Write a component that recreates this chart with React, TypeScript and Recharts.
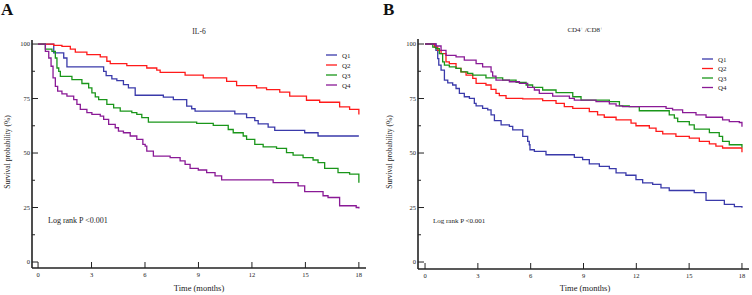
import { Line, LineChart, XAxis, YAxis } from "recharts"

// Panel A: IL-6 quartiles (time in months, survival %)
const aQ1T = [0, 0.88, 1.44, 1.62, 3.68, 3.82, 4.14, 4.42, 4.79, 5.07, 5.45, 7.03, 7.59, 8.34, 8.62, 8.81, 11.04, 11.7, 12.16, 12.35, 12.91, 13.28, 14.96, 15.71, 18]
const aQ1S = [100, 95.9, 93.6, 89.5, 87.5, 85.5, 84.0, 83.2, 81.4, 79.9, 76.5, 75.6, 74.5, 71.5, 70.3, 69.2, 68.0, 66.2, 64.9, 63.4, 61.9, 60.4, 59.3, 57.8, 57.8]
const aQ2T = [0, 0.88, 1.34, 1.81, 2.09, 2.74, 3.49, 3.86, 4.05, 4.98, 6.1, 6.66, 6.85, 8.25, 9.27, 10.58, 11.14, 12.26, 12.82, 13.56, 14.12, 15.06, 15.8, 16.92, 17.48, 18]
const aQ2S = [100, 99.4, 98.9, 97.7, 96.3, 95.1, 94.1, 92.1, 91.0, 90.1, 89.0, 88.0, 87.0, 85.7, 84.5, 82.9, 80.9, 79.9, 79.1, 77.9, 76.1, 74.2, 73.3, 71.2, 70.0, 67.7]
const aQ3T = [0, 0.41, 0.78, 0.97, 1.06, 1.16, 1.25, 1.9, 2.46, 2.84, 3.02, 3.21, 3.4, 3.86, 4.24, 4.61, 5.26, 5.54, 5.82, 6.19, 8.9, 9.83, 10.67, 10.95, 11.51, 11.7, 12.16, 12.63, 13.38, 13.94, 14.31, 14.87, 15.43, 15.71, 16.08, 16.83, 17.48, 18]
const aQ3S = [100, 97.7, 96.6, 93.6, 89.0, 87.5, 85.2, 83.7, 81.9, 79.9, 77.6, 75.8, 74.5, 72.3, 70.7, 69.2, 68.5, 67.7, 66.2, 64.2, 63.6, 62.7, 60.8, 59.3, 57.8, 56.3, 54.0, 52.8, 52.1, 50.2, 49.0, 47.9, 46.8, 45.6, 43.0, 41.0, 40.3, 36.4]
const aQ4T = [0, 0.41, 0.6, 0.73, 0.84, 0.97, 1.1, 1.34, 1.62, 2.0, 2.18, 2.37, 2.74, 3.02, 3.49, 3.68, 3.96, 4.33, 4.51, 4.79, 5.17, 5.54, 5.88, 6.01, 6.1, 6.47, 7.41, 7.97, 8.25, 8.53, 8.99, 9.46, 9.93, 10.3, 13.19, 14.59, 14.96, 15.99, 16.27, 16.92, 17.85, 18]
const aQ4S = [100, 96.6, 93.6, 89.8, 84.5, 80.6, 78.4, 77.1, 76.1, 74.5, 72.3, 70.0, 68.5, 67.7, 66.9, 65.4, 63.1, 61.6, 60.0, 59.3, 57.8, 56.3, 54.0, 53.2, 50.9, 48.6, 47.9, 46.4, 44.8, 43.0, 42.2, 41.0, 39.5, 37.7, 36.4, 34.9, 32.3, 30.4, 29.6, 25.8, 25.0, 24.6]

// Panel B: CD4+/CD8+ quartiles
const bQ1T = [0, 0.62, 0.72, 0.78, 0.91, 1.1, 1.29, 1.57, 1.76, 1.95, 2.23, 2.52, 2.8, 2.9, 3.27, 3.56, 3.75, 3.94, 4.32, 4.79, 4.98, 5.55, 5.83, 5.92, 5.96, 6.21, 6.87, 8.48, 8.95, 9.33, 9.9, 10.47, 10.85, 11.41, 11.98, 12.36, 12.93, 13.4, 13.87, 15.29, 15.96, 17.0, 17.57, 18]
const bQ1S = [100, 97.1, 93.3, 90.3, 88.0, 83.4, 82.2, 81.2, 79.6, 77.4, 75.8, 75.1, 72.8, 71.6, 70.5, 69.8, 67.5, 64.9, 62.9, 62.2, 60.6, 57.6, 55.3, 53.8, 51.5, 50.8, 49.2, 48.0, 47.0, 45.0, 43.9, 42.8, 40.9, 39.8, 37.8, 36.3, 35.6, 34.0, 32.8, 31.8, 28.3, 26.4, 25.4, 24.9]
const bQ2T = [0, 0.53, 0.72, 0.91, 1.19, 1.38, 1.76, 2.04, 2.33, 2.71, 2.9, 3.46, 3.75, 4.03, 4.22, 4.6, 5.55, 6.68, 7.44, 7.91, 8.39, 9.33, 9.8, 10.18, 10.85, 11.7, 11.98, 12.74, 13.12, 13.5, 14.25, 15.01, 15.58, 16.15, 16.52, 16.9, 18]
const bQ2S = [100, 98.6, 97.1, 95.6, 91.8, 91.0, 88.8, 87.2, 85.7, 84.2, 81.9, 81.2, 79.2, 77.4, 76.3, 75.1, 74.8, 74.0, 72.8, 71.3, 70.5, 69.0, 67.5, 66.4, 65.2, 63.7, 62.5, 61.4, 59.9, 58.8, 57.6, 56.8, 55.3, 54.2, 53.2, 52.3, 50.4]
const bQ3T = [0, 0.44, 0.62, 0.81, 1.0, 1.1, 1.38, 1.76, 2.04, 2.42, 2.71, 3.46, 4.41, 5.17, 5.74, 6.11, 6.68, 7.44, 8.39, 8.86, 10.47, 11.04, 11.6, 12.17, 13.87, 14.16, 14.35, 15.01, 15.29, 16.15, 16.71, 16.9, 17.28, 18]
const bQ3S = [100, 98.6, 97.9, 95.6, 91.8, 90.3, 89.5, 88.8, 87.2, 86.5, 85.7, 84.5, 83.4, 82.4, 81.2, 80.1, 78.9, 77.7, 75.8, 74.3, 73.6, 71.6, 71.3, 69.4, 67.5, 66.0, 64.4, 62.9, 61.0, 59.4, 57.6, 55.3, 53.8, 52.5]
const bQ4T = [0, 0.62, 0.91, 1.19, 1.76, 2.23, 2.9, 3.27, 3.75, 3.84, 4.03, 4.79, 5.36, 5.83, 6.21, 6.49, 7.25, 8.2, 8.48, 9.71, 10.47, 10.85, 11.22, 13.69, 14.06, 14.63, 15.39, 15.96, 16.9, 17.28, 17.85, 18]
const bQ4S = [100, 99.1, 97.1, 94.8, 94.1, 92.6, 91.0, 89.5, 87.2, 85.3, 83.4, 82.7, 81.9, 80.1, 78.9, 77.4, 76.1, 75.1, 74.3, 73.6, 72.5, 71.6, 71.3, 70.5, 69.8, 68.5, 67.5, 66.4, 65.2, 64.4, 64.0, 62.1]

const groups = ["Q1", "Q2", "Q3", "Q4"]
const colors = ["#3a3aaa", "#ff1a1a", "#1a961a", "#8a1a96"]
const monthTicks = [0, 3, 6, 9, 12, 15, 18]
const survTicks = [0, 12.5, 25, 37.5, 50, 62.5, 75, 87.5, 100]

const FONT = "'Liberation Serif', 'Times New Roman', serif"
const INK = "#222"

const toRows = (t: number[], s: number[]) => t.map((v, i) => ({ t: v, s: s[i] }))

const YTick = (props: any) => {
  const { x, y, payload } = props
  const major = payload.value % 25 === 0
  return (
    <g>
      <line x1={x + 2} x2={x + 2 + (major ? 6 : 3)} y1={y} y2={y} stroke={INK} strokeWidth={1} />
      {major && (
        <text x={x} y={y} dy={2.3} textAnchor="end" fontSize={6.5} fontFamily={FONT} fill={INK}>
          {payload.value}
        </text>
      )}
    </g>
  )
}

const XTick = (props: any) => {
  const { x, y, payload } = props
  return (
    <g>
      <line x1={x} x2={x} y1={y} y2={y - 6} stroke={INK} strokeWidth={1} />
      <text x={x} y={y + 9} textAnchor="middle" fontSize={6.5} fontFamily={FONT} fill={INK}>
        {payload.value}
      </text>
    </g>
  )
}

function LegendBox({ x, y, gap }: { x: number; y: number; gap: number }) {
  return (
    <g>
      {groups.map((g, i) => (
        <g key={g}>
          <line x1={x} x2={x + 11} y1={y + i * gap} y2={y + i * gap} stroke={colors[i]} strokeWidth={1.3} />
          <text x={x + 16} y={y + i * gap} dy={2.5} fontSize={7} fontFamily={FONT} fill={INK}>
            {g}
          </text>
        </g>
      ))}
    </g>
  )
}

type PanelProps = {
  series: { t: number[]; s: number[] }[]
  margin: { top: number; right: number; bottom: number; left: number }
  xDomain: [number, number]
  yDomain: [number, number]
  children?: any
}

function Panel({ series, margin, xDomain, yDomain, children }: PanelProps) {
  return (
    <LineChart width={376} height={295} margin={margin}>
      <XAxis
        type="number"
        dataKey="t"
        domain={xDomain}
        ticks={monthTicks}
        allowDataOverflow
        height={20}
        stroke={INK}
        strokeWidth={1.6}
        tickLine={false}
        tickSize={0}
        tickMargin={0}
        tick={<XTick />}
        interval={0}
      />
      <YAxis
        type="number"
        domain={yDomain}
        ticks={survTicks}
        allowDataOverflow
        width={24}
        stroke={INK}
        strokeWidth={1.6}
        tickLine={false}
        tickSize={0}
        tickMargin={2}
        tick={<YTick />}
        interval={0}
      />
      {series.map((sr, i) => (
        <Line
          key={groups[i]}
          name={groups[i]}
          data={toRows(sr.t, sr.s)}
          dataKey="s"
          type="stepAfter"
          stroke={colors[i]}
          strokeWidth={1.3}
          dot={false}
          isAnimationActive={false}
        />
      ))}
      {children}
    </LineChart>
  )
}

export default function App() {
  return (
    <div style={{ position: "absolute", left: 0, top: 0, width: 752, height: 295, background: "#fff" }}>
      <div style={{ position: "absolute", left: 0, top: 0 }}>
        <Panel
          series={[
            { t: aQ1T, s: aQ1S },
            { t: aQ2T, s: aQ2S },
            { t: aQ3T, s: aQ3S },
            { t: aQ4T, s: aQ4S },
          ]}
          margin={{ top: 40, right: 10, bottom: 7, left: 8 }}
          xDomain={[-0.34, 18.4]}
          yDomain={[-2.75, 101.85]}
        >
          <LegendBox x={326} y={55} gap={10} />
          <text x={1} y={15} fontSize={17} fontWeight="bold" fontFamily={FONT} fill="#111">A</text>
          <text x={199} y={34} textAnchor="middle" fontSize={7.5} fontFamily={FONT} fill={INK}>IL-6</text>
          <text x={48} y={223} fontSize={8} fontFamily={FONT} fill={INK}>Log rank P &lt;0.001</text>
          <text x={199} y={291} textAnchor="middle" fontSize={8.5} fontFamily={FONT} fill={INK}>Time (months)</text>
          <text x={10} y={152} transform="rotate(-90 10 152)" textAnchor="middle" fontSize={7.5} fontFamily={FONT} fill={INK}>
            Survival probability (%)
          </text>
        </Panel>
      </div>
      <div style={{ position: "absolute", left: 376, top: 0 }}>
        <Panel
          series={[
            { t: bQ1T, s: bQ1S },
            { t: bQ2T, s: bQ2S },
            { t: bQ3T, s: bQ3S },
            { t: bQ4T, s: bQ4S },
          ]}
          margin={{ top: 39, right: 3, bottom: 6, left: 18 }}
          xDomain={[-0.4, 18.4]}
          yDomain={[-3.2, 102.3]}
        >
          <LegendBox x={326} y={59} gap={9.5} />
          <text x={7} y={15} fontSize={17} fontWeight="bold" fontFamily={FONT} fill="#111">B</text>
          <text x={209} y={32} textAnchor="middle" fontSize={7} fontFamily={FONT} fill={INK}>
            CD4<tspan dy={-2.5} fontSize={4.5}>+</tspan>
            <tspan dy={2.5}> /CD8</tspan>
            <tspan dy={-2.5} fontSize={4.5}>+</tspan>
          </text>
          <text x={57} y={223} fontSize={7} fontFamily={FONT} fill={INK}>Log rank P &lt;0.001</text>
          <text x={209} y={291} textAnchor="middle" fontSize={8.5} fontFamily={FONT} fill={INK}>Time (months)</text>
          <text x={16} y={152} transform="rotate(-90 16 152)" textAnchor="middle" fontSize={7.5} fontFamily={FONT} fill={INK}>
            Survival probability (%)
          </text>
        </Panel>
      </div>
    </div>
  )
}
